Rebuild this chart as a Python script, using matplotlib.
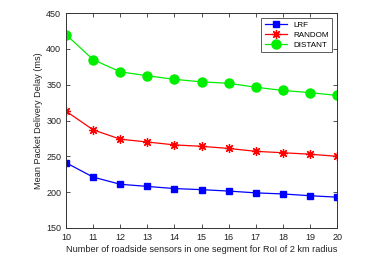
import matplotlib
matplotlib.use("Agg")
import matplotlib.pyplot as plt

plt.rcParams["font.family"] = ["Liberation Sans", "DejaVu Sans"]

sensors = [10, 11, 12, 13, 14, 15, 16, 17, 18, 19, 20]
lrf = [241, 221, 211, 208, 205, 203.5, 201.5, 199, 197.5, 195, 193]
random_ = [313, 287, 274, 270, 266, 264, 261, 257, 255, 253, 250]
distant = [420, 385, 368, 362.5, 357.5, 354, 352, 346.5, 342, 339, 335]

fig = plt.figure(figsize=(3.84, 2.57), dpi=100)
ax = fig.add_axes([0.172, 0.113, 0.706, 0.836])

ax.plot(sensors, lrf, color="blue", marker="s", markersize=5, linewidth=0.9, label="LRF")
ax.plot(sensors, random_, color="red", marker=(8, 2, 0), markersize=6.5,
        markeredgewidth=0.9, linewidth=0.9, label="RANDOM")
ax.plot(sensors, distant, color="#00ee00", marker="o", markersize=6.5, linewidth=0.9, label="DISTANT")

ax.set_xlim(10, 20)
ax.set_ylim(150, 450)
ax.set_xticks(sensors)
ax.set_yticks([150, 200, 250, 300, 350, 400, 450])
ax.tick_params(direction="in", top=True, right=True, labelsize=6.5, length=3,
               width=0.6, colors="#333333", labelcolor="#222222")
for sp in ax.spines.values():
    sp.set_linewidth(0.7)
    sp.set_color("#333333")

ax.set_xlabel("Number of roadside sensors in one segment for RoI of 2 km radius",
              fontsize=6.6, color="#222222", labelpad=2)
ax.set_ylabel("Mean Packet Delivery Delay (ms)", fontsize=6.6, color="#222222", labelpad=2)

leg = ax.legend(loc="upper right", fontsize=5.8, frameon=True, fancybox=False,
                edgecolor="#333333", borderpad=0.4, handlelength=2.8,
                labelspacing=0.3, borderaxespad=0.6)
leg.get_frame().set_linewidth(0.7)

fig.savefig("out.png", dpi=100)
